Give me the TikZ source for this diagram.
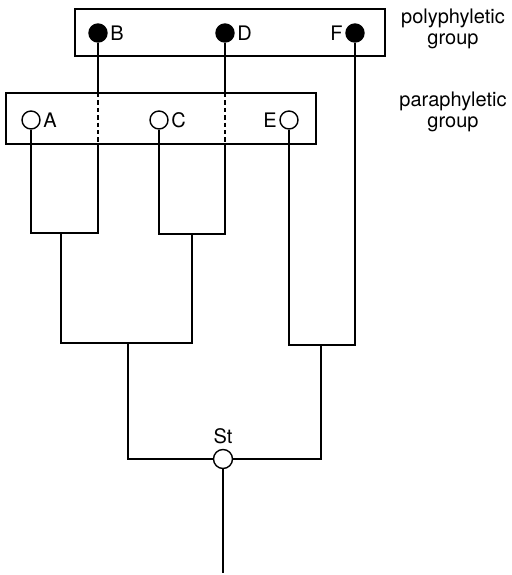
\documentclass[tikz,border=0pt]{standalone}
\usepackage{fontspec}
\setmainfont{TeX Gyre Heros}
\tikzset{
	tip/.style={circle,draw,line width=.7pt,inner sep=0pt,minimum size=9pt},
	fulltip/.style={tip,fill=black},
	hollowtip/.style={tip,fill=white},
	grouplab/.style={align=center,font=\fontsize{10}{10.5}\selectfont},
}
\begin{document}
\begin{tikzpicture}[x=.5pt,y=-.5pt,line width=.7pt]
		\useasboundingbox (0,0) rectangle (512,575);
		\draw (75,9) rectangle (385,56);
		\coordinate (p1) at (6,93); \coordinate (p2) at (316,144);
		\draw (p1) rectangle (p2);
		
		\node[fulltip,label={[inner sep=1pt]right:B}] (B) at (98,33) {};
		\node[fulltip,label={[inner sep=1pt]right:D}] (D) at (225,33) {};
		\node[fulltip,label={[inner sep=1pt]left:F}] (F) at (355,33) {};
		\node[hollowtip,label={[inner sep=1pt]right:A}] (A) at (31,120) {};
		\node[hollowtip,label={[inner sep=1pt]right:C}] (C) at (159,120) {};
		\node[hollowtip,label={[inner sep=1pt]left:E}] (E) at (289,120) {};
		\node[hollowtip,minimum size=9.5pt,label={[inner sep=2pt]above:St}] (St) at (223,459) {};
		\coordinate (root) at (223,573);
		
		\node[grouplab] (poly) at (453,29) {polyphyletic\\group};
		\node[grouplab] (para) at (453,112) {paraphyletic\\group};
		
		\coordinate (ab) at (61,233); \coordinate (cd) at (192,234);
		\coordinate (abcd) at (128,343); \coordinate (ef) at (321,345);
		
		\draw (B) -- (B |- p1); \draw [dash pattern=on 2.2pt off 1.5pt] (B |- p1) -- (B |- p2);
		\draw (B |- p2) -- (B |- ab) -- (A |- ab) -- (A);
		\draw (D) -- (D |- p1); \draw [dash pattern=on 2.2pt off 1.5pt] (D |- p1) -- (D |- p2);
		\draw (D |- p2) -- (D |- cd) -- (C |- cd) -- (C);
		\draw (ab) -- (ab |- abcd) -- (cd |- abcd) -- (cd);
		\draw (E) -- (E |- ef) -- (F |- ef) -- (F);
		\draw (abcd) -- (abcd |- St) -- (St);
		\draw (ef) -- (ef |- St) -- (St);
		\draw (St) -- (root);
		\end{tikzpicture}
\end{document}
